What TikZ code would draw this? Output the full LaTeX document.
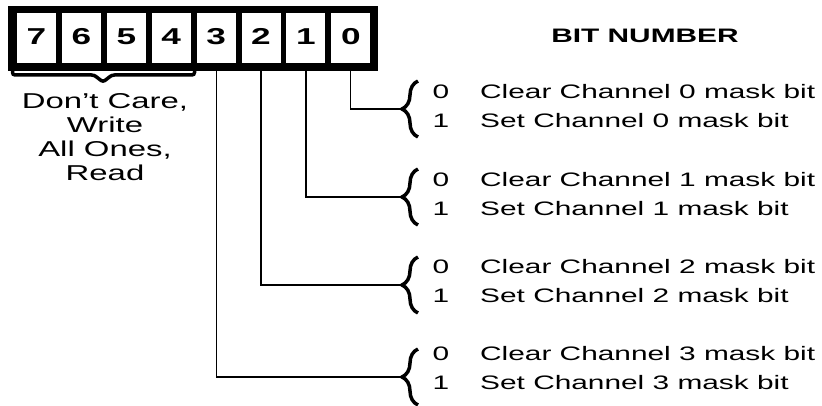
\documentclass[tikz,border=0pt]{standalone}
\usepackage{fontspec}
\setmainfont{Liberation Sans}[FakeStretch=1.53]
\usetikzlibrary{decorations.pathreplacing}
\begin{document}
\begin{tikzpicture}[x=1pt,y=-1pt,
  cell/.style={fill=white, minimum width=39pt, minimum height=50pt, inner sep=0pt, font=\fontsize{23}{24}\selectfont\bfseries},
  conn/.style={line width=1.2pt},
  chbrace/.style={decorate, decoration={brace, amplitude=16pt}, line width=3.5pt},
  lbl/.style={font=\fontsize{19.5}{24}\selectfont, anchor=west, inner sep=0pt},
  val/.style={font=\fontsize{19.5}{24}\selectfont, inner sep=0pt},
]
\useasboundingbox (0,0) rectangle (822,406);
\fill (8,6) rectangle (377.5,71);
\foreach \b [count=\i from 0] in {7,6,5,4,3,2,1,0}
  \node[cell] (c\b) at ({36.5+44.9*\i},38) {\raisebox{2.5pt}{\b}};
\draw[line width=3.5pt, rounded corners=2.5pt] (12.5,66) -- (12.5,75) -- (94,75) -- (103,82) -- (112,75) -- (194.5,75) -- (194.5,70);
\node[align=center, font=\fontsize{21.5}{24}\selectfont, inner sep=0pt] (dc) at (105,137) {Don't Care,\\Write\\All Ones,\\Read};
\node[font=\fontsize{19.5}{24}\selectfont\bfseries, inner sep=0pt] (bn) at (645,36) {BIT NUMBER};
\foreach \k/\cy/\ty in {0/92/109, 1/180/197, 2/267/285, 3/354/377} {
  \coordinate (t\k) at (401,\ty);
  \draw[chbrace] (418,{\ty+28}) -- (418,{\ty-28});
  \node[val] (z\k) at (441,\cy) {0};
  \node[val] (o\k) at (441,{\cy+29}) {1};
  \node[lbl] (cl\k) at (480,\cy) {Clear Channel \k\ mask bit};
  \node[lbl] (st\k) at (480,{\cy+29}) {Set Channel \k\ mask bit};
  \draw[conn] (c\k.south) |- (t\k);
}
\end{tikzpicture}
\end{document}
